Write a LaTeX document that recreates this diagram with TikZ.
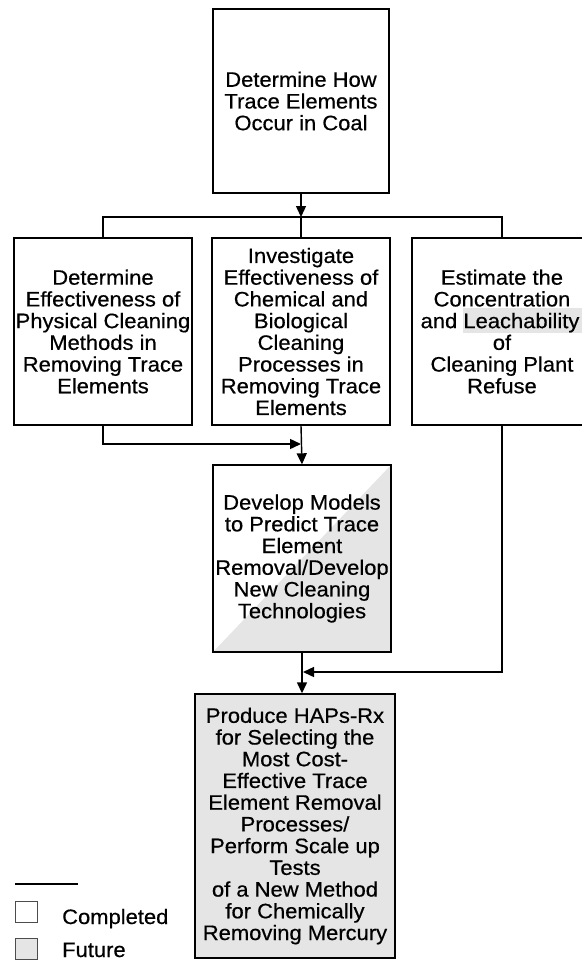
\documentclass[tikz,border=0pt]{standalone}
\usepackage{fontspec}
\setmainfont{Liberation Sans}[FakeStretch=1.05,FakeBold=0.5]
\usetikzlibrary{arrows.meta}
\newcommand{\hlword}[1]{\smash{\setlength{\fboxsep}{0pt}\colorbox{gray!20}{\rule[-5bp]{0pt}{25bp}#1\hspace{4bp}}}}

\begin{document}
\begin{tikzpicture}[x=1bp,y=-1bp,line join=miter,>={Triangle[length=11bp,width=10bp]},
  box/.style={draw,line width=1.4bp,minimum width=178bp,minimum height=187bp,inner sep=0pt,align=center,font=\fontsize{21}{21.8}\selectfont},
  future/.style={box,fill=gray!20},
  link/.style={line width=1.4bp},
  keybox/.style={draw=black!70,line width=1bp,minimum width=22bp,minimum height=21bp,inner sep=0pt},
  keytext/.style={anchor=base west,inner sep=0pt,font=\fontsize{21}{21.8}\selectfont}]
  \useasboundingbox (0,0) rectangle (582,964);
  \clip (0,0) rectangle (582,964);
  \node[box,minimum width=176bp,minimum height=184bp] (occur) at (301,101) {Determine How\\Trace Elements\\Occur in Coal};
  \node[box] (physical) at (103,331.5) {Determine\\Effectiveness of\\Physical Cleaning\\Methods in\\Removing Trace\\Elements};
  \node[box] (chemical) at (301,331.5) {Investigate\\Effectiveness of\\Chemical and\\Biological\\Cleaning\\Processes in\\Removing Trace\\Elements};
  \node[box,minimum width=180bp] (refuse) at (502,331.5) {Estimate the\\Concentration\\and \hlword{Leachability}\\of\\Cleaning Plant\\Refuse};
  \node[box,path picture={\fill[gray!20] (path picture bounding box.south west) -- (path picture bounding box.north east) -- (path picture bounding box.south east) -- cycle;}] (models) at (302,558.5) {Develop Models\\to Predict Trace\\Element\\Removal/Develop\\New Cleaning\\Technologies};
  \node[future,minimum width=200bp,minimum height=264bp] (haps) at (295,826) {Produce HAPs-Rx\\for Selecting the\\Most Cost-\\Effective Trace\\Element Removal\\Processes/\\Perform Scale up\\Tests\\of a New Method\\for Chemically\\Removing Mercury};
  \coordinate (split) at (301,217);
  \coordinate (joinleft) at (301,444);
  \coordinate (joinright) at (303,672);
  \draw[link,->] (occur.south) -- (split);
  \draw[link] (physical.north) |- (split) -| (refuse.north);
  \draw[link] (split) -- (chemical.north);
  \draw[link,->] (physical.south) |- (joinleft);
  \draw[link,->] (chemical.south) -- (models.north);
  \draw[link,->] (refuse.south) |- (joinright);
  \draw[link,->] (models.south) -- (models.south |- haps.north);
  \draw[link] (15,884) -- (78,884);
  \node[keybox] (donekey) at (26,911.5) {};
  \node[keytext] (donetext) at (62,924) {Completed};
  \node[keybox,fill=gray!20] (futurekey) at (26,949) {};
  \node[keytext] (futuretext) at (62,957) {Future};
\end{tikzpicture}
\end{document}
